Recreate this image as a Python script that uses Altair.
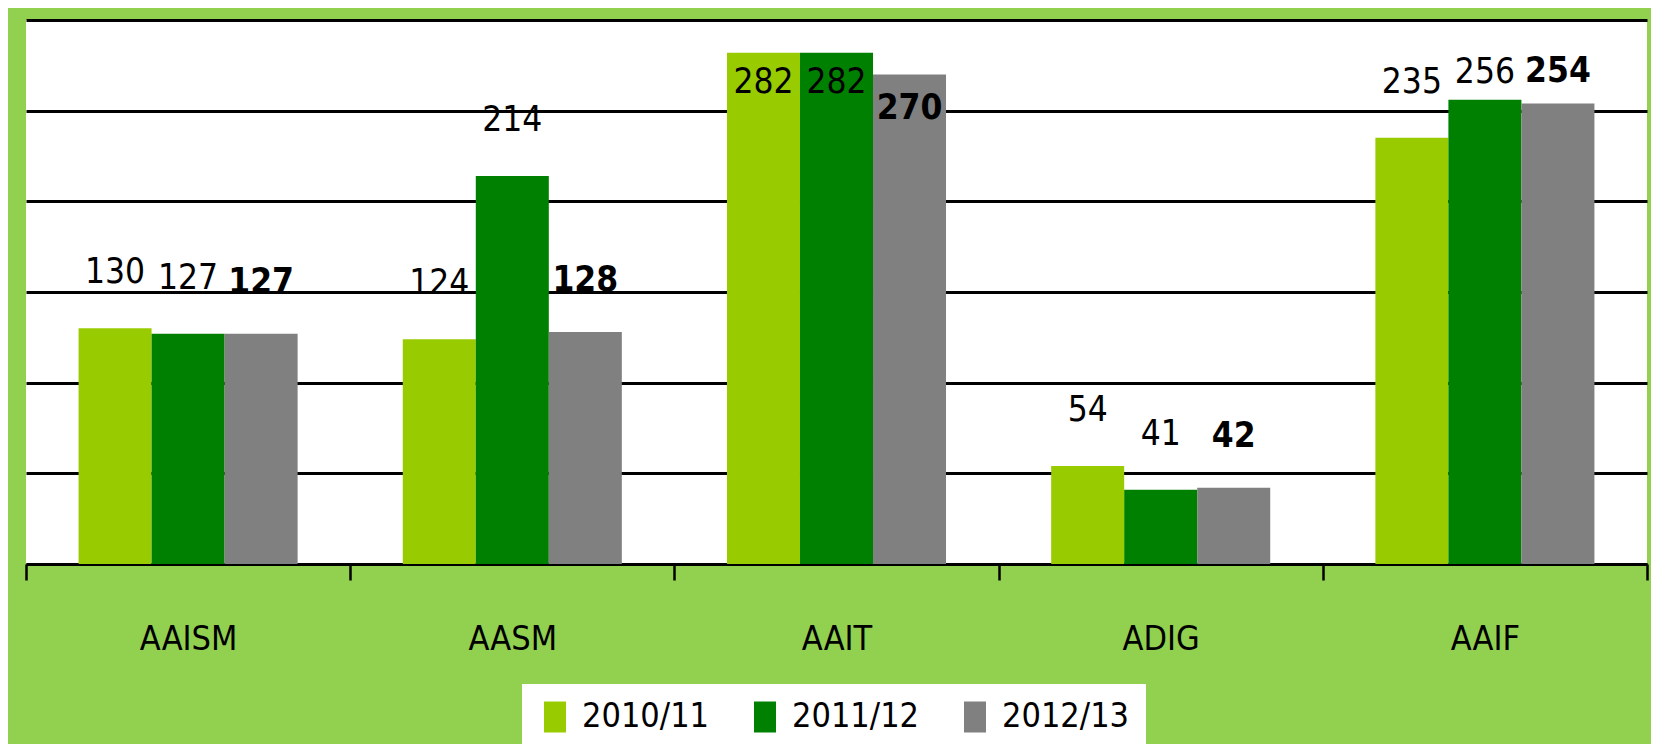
import altair as alt
import pandas as pd

categories = ["AAISM", "AASM", "AAIT", "ADIG", "AAIF"]
series_names = ["2010/11", "2011/12", "2012/13"]
values_2010 = [130, 124, 282, 54, 235]
values_2011 = [127, 214, 282, 41, 256]
values_2012 = [127, 128, 270, 42, 254]
colors = ["#99CC00", "#008000", "#808080"]

rows = []
for s, vals in zip(series_names, [values_2010, values_2011, values_2012]):
    for c, v in zip(categories, vals):
        rows.append({"category": c, "series": s, "value": v})
df = pd.DataFrame(rows)

FONT = "'DejaVu Sans Condensed', 'Liberation Sans Narrow', 'Roboto Condensed', 'Arial Narrow', sans-serif"
W, H = 1621, 544

x_enc = alt.X(
    "category:N",
    sort=categories,
    scale=alt.Scale(paddingInner=0, paddingOuter=0),
    axis=alt.Axis(
        title=None, labelAngle=0, tickBand="extent",
        domainColor="black", domainWidth=2.5,
        tickColor="black", tickWidth=2.5, tickSize=16,
        labelFont=FONT, labelFontSize=34, labelColor="black",
        labelPadding=42, grid=False,
    ),
)
xoff_enc = alt.XOffset("series:N", sort=series_names,
                       scale=alt.Scale(paddingInner=0, paddingOuter=0.72))
y_enc = alt.Y(
    "value:Q",
    scale=alt.Scale(domain=[0, 300], nice=False),
    axis=alt.Axis(
        title=None, labels=False, ticks=False, domain=False,
        grid=True, gridColor="black", gridWidth=2.8,
        values=[0, 50, 100, 150, 200, 250, 300],
    ),
)

bars = alt.Chart(df).mark_bar(stroke=None).encode(
    x=x_enc,
    xOffset=xoff_enc,
    y=y_enc,
    color=alt.Color(
        "series:N",
        sort=series_names,
        scale=alt.Scale(domain=series_names, range=colors),
        legend=alt.Legend(
            title=None, orient="none", legendX=496, legendY=664,
            direction="horizontal", fillColor="white", padding=16,
            symbolType="M-0.71,-1H0.71V1H-0.71Z", symbolSize=961,
            symbolStrokeWidth=0, labelFont=FONT, labelFontSize=34,
            labelColor="black", labelOffset=10, columnPadding=38,
            labelLimit=300,
        ),
    ),
)


def labels(filter_expr, dy, weight):
    return alt.Chart(df).transform_filter(filter_expr).mark_text(
        font=FONT, fontSize=35, fontWeight=weight, color="black",
        baseline="middle", align="center", dy=dy,
    ).encode(
        x=alt.X("category:N", sort=categories),
        xOffset=alt.XOffset("series:N", sort=series_names),
        y=alt.Y("value:Q"),
        text=alt.Text("value:Q"),
    )

normal = "datum.series != '2012/13'"
bold = "datum.series == '2012/13'"

layers = [
    bars,
    labels(f"{normal} && datum.value < 250", -56, "normal"),
    labels(f"{normal} && datum.value >= 250 && datum.value < 275", -28, "normal"),
    labels(f"{normal} && datum.value >= 275", 29, "normal"),
    labels(f"{bold} && datum.value < 250", -52, "bold"),
    labels(f"{bold} && datum.value >= 250 && datum.value < 265", -32, "bold"),
    labels(f"{bold} && datum.value >= 265", 34, "bold"),
]

chart = alt.layer(*layers).properties(
    width=W, height=H,
    background="#92D050",
    padding={"left": 18, "top": 12, "right": 4, "bottom": 180},
    autosize=alt.AutoSizeParams(type="none"),
).configure_view(fill="white", stroke=None)

chart.save("out.html", embed_options={"renderer": "svg", "actions": False})
